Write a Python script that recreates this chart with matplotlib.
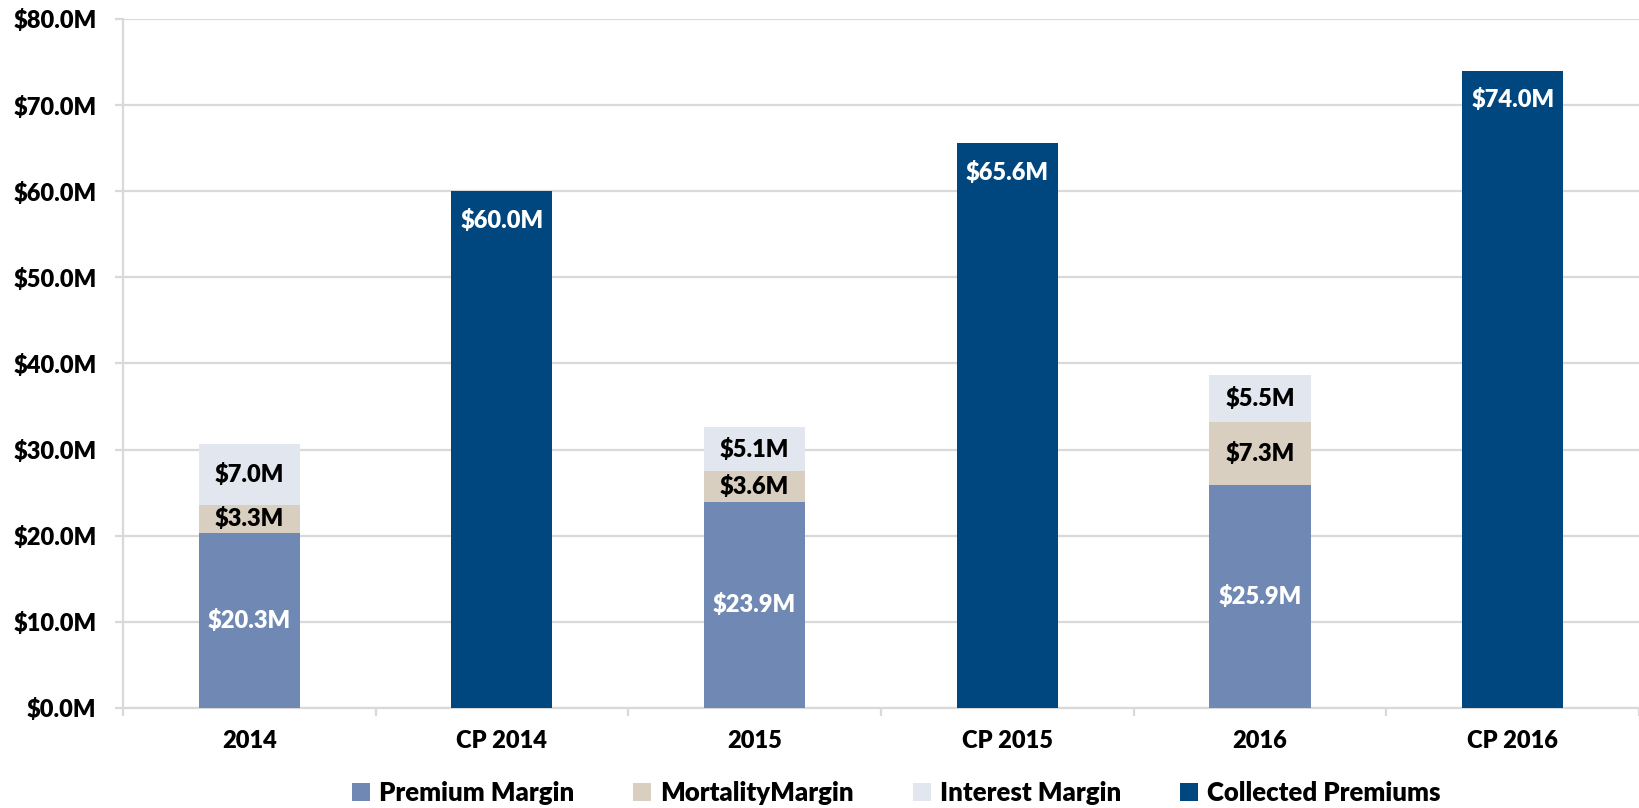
import numpy as np
import matplotlib
matplotlib.use('Agg')
import matplotlib.pyplot as plt
from matplotlib.ticker import FixedLocator, FuncFormatter

# data (values in $M)
categories = ['2014', 'CP 2014', '2015', 'CP 2015', '2016', 'CP 2016']
premium_margin = [20.3, 0, 23.9, 0, 25.9, 0]
mortality_margin = [3.3, 0, 3.6, 0, 7.3, 0]
interest_margin = [7.0, 0, 5.1, 0, 5.5, 0]
collected_premiums = [0, 60.0, 0, 65.6, 0, 74.0]
legend_labels = ['Premium Margin', 'MortalityMargin', 'Interest Margin', 'Collected Premiums']

C_PREM = '#6F89B4'
C_MORT = '#D9CFC0'
C_INT = '#E2E6EF'
C_CP = '#00467F'
GRID = '#D9D9D9'
WT = 800

plt.rcParams['font.family'] = ['Lato', 'DejaVu Sans']

fig = plt.figure(figsize=(16.39, 8.08), dpi=100)
ax = fig.add_axes([0.075, 0.124, 0.925, 0.8525])

x = np.arange(len(categories))
prem = np.array(premium_margin)
mort = np.array(mortality_margin)
intr = np.array(interest_margin)
cp = np.array(collected_premiums)
w = 0.4

b1 = ax.bar(x, prem, w, color=C_PREM, label=legend_labels[0], zorder=3)
b2 = ax.bar(x, mort, w, bottom=prem, color=C_MORT, label=legend_labels[1], zorder=3)
b3 = ax.bar(x, intr, w, bottom=prem + mort, color=C_INT, label=legend_labels[2], zorder=3)
b4 = ax.bar(x, cp, w, color=C_CP, label=legend_labels[3], zorder=3)

fs = 17
for i in range(len(categories)):
    if prem[i] > 0:
        ax.text(x[i], prem[i] / 2, f'${prem[i]:.1f}M', ha='center', va='center',
                color='white', fontsize=fs, fontweight=WT, zorder=4)
        ax.text(x[i], prem[i] + mort[i] / 2, f'${mort[i]:.1f}M', ha='center', va='center',
                color='black', fontsize=fs, fontweight=WT, zorder=4)
        ax.text(x[i], prem[i] + mort[i] + intr[i] / 2, f'${intr[i]:.1f}M', ha='center',
                va='center', color='black', fontsize=fs, fontweight=WT, zorder=4)
    if cp[i] > 0:
        ax.annotate(f'${cp[i]:.1f}M', xy=(x[i], cp[i]), xytext=(0, -21),
                    textcoords='offset points', ha='center', va='center',
                    color='white', fontsize=fs, fontweight=WT, zorder=4)

ax.set_xlim(-0.5, len(categories) - 0.5)
ax.set_ylim(0, 80)
ax.set_yticks(np.arange(0, 81, 10))
ax.yaxis.set_major_formatter(FuncFormatter(lambda v, p: f'${v:.1f}M'))
ax.grid(axis='y', color=GRID, linewidth=1.6, zorder=0)

# x ticks: marks at boundaries, labels at centers
ax.xaxis.set_major_locator(FixedLocator(np.arange(-0.5, len(categories), 1.0)))
ax.xaxis.set_major_formatter(FuncFormatter(lambda v, p: ''))
ax.xaxis.set_minor_locator(FixedLocator(x))
ax.set_xticklabels(categories, minor=True)
ax.tick_params(axis='x', which='major', length=6, width=1.6, color=GRID, direction='out')
ax.tick_params(axis='x', which='minor', length=0, pad=16, labelsize=fs)
ax.tick_params(axis='y', length=6, width=1.6, color=GRID, pad=13, labelsize=fs)
for lab in ax.get_xticklabels(minor=True) + ax.get_yticklabels():
    lab.set_fontweight(WT)

for s in ['top', 'right']:
    ax.spines[s].set_visible(False)
ax.spines['left'].set_color(GRID)
ax.spines['left'].set_linewidth(1.6)
ax.spines['bottom'].set_color(GRID)
ax.spines['bottom'].set_linewidth(1.6)

fig.legend(handles=[b1, b2, b3, b4], loc='center', bbox_to_anchor=(0.547, 0.018),
           ncol=4, frameon=False, handlelength=0.7, handleheight=0.7,
           handletextpad=0.35, columnspacing=2.3, prop={'weight': WT, 'size': 18.5})

fig.savefig('out.png', dpi=100)
